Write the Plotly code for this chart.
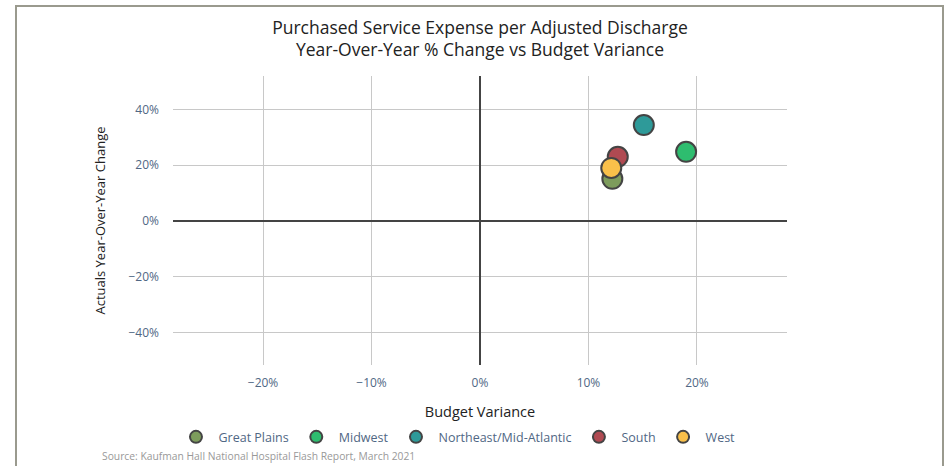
import plotly.graph_objects as go

regions = ["Great Plains", "Midwest", "Northeast/Mid-Atlantic", "South", "West"]
budget_variance = [12.2, 19.0, 15.1, 12.7, 12.1]
yoy_change = [15.1, 24.8, 34.4, 23.0, 19.0]
colors = ["#7d9c5c", "#2ebd6f", "#2e9a99", "#b04a52", "#f9c04a"]

x_ticks = [-20, -10, 0, 10, 20]
y_ticks = [-40, -20, 0, 20, 40]

fig = go.Figure()
for name, xv, yv, c in zip(regions, budget_variance, yoy_change, colors):
    fig.add_trace(go.Scatter(
        x=[xv], y=[yv], mode="markers", name=name,
        marker=dict(size=20, color=c, line=dict(color="#444444", width=2)),
    ))

tick_font = dict(family="Open Sans", size=12, color="#506784")

fig.update_layout(
    width=949, height=466,
    margin=dict(l=173, r=162, t=76, b=101, autoexpand=False),
    paper_bgcolor="white", plot_bgcolor="white",
    font=dict(family="Open Sans", color="#333333"),
    title=dict(
        text="Purchased Service Expense per Adjusted Discharge<br>Year-Over-Year % Change vs Budget Variance",
        x=0.5, xref="paper", xanchor="center", yref="container", y=1 - 33.5 / 466, yanchor="middle",
        font=dict(family="Open Sans", size=17.5, color="#222222"),
    ),
    xaxis=dict(
        range=[-28.3, 28.3], tickvals=x_ticks,
        ticktext=[f"{v}%".replace("-", "\u2212") for v in x_ticks],
        showgrid=True, gridcolor="#c8c8c8", gridwidth=1,
        zeroline=True, zerolinecolor="#444444", zerolinewidth=2,
        showline=False, tickfont=tick_font, automargin=False, ticklabelstandoff=9,
        title=dict(text="Budget Variance", font=dict(size=14.5, color="#222222"), standoff=16),
    ),
    yaxis=dict(
        range=[-51.7, 52], tickvals=y_ticks,
        ticktext=[f"{v}%".replace("-", "\u2212") for v in y_ticks],
        showgrid=True, gridcolor="#c8c8c8", gridwidth=1,
        zeroline=True, zerolinecolor="#444444", zerolinewidth=2,
        showline=False, tickfont=tick_font, ticklabelstandoff=13, automargin=False,
        title=dict(text="Actuals Year-Over-Year Change", font=dict(size=13, color="#222222"), standoff=19),
    ),
    legend=dict(
        orientation="h", x=0.4625, xanchor="center", y=-0.198, yanchor="top",
        font=dict(family="Open Sans", size=12.5, color="#506784"),
        itemsizing="constant", itemwidth=35,
    ),
    showlegend=True,
)

fig.add_annotation(
    text="Source: Kaufman Hall National Hospital Flash Report, March 2021",
    xref="paper", yref="paper", x=(100 - 173) / 614, y=-0.283, xanchor="left", yanchor="top",
    showarrow=False, font=dict(family="Open Sans", size=10.3, color="#999999"),
)

# figure frame
pw, ph = 949 - 173 - 162, 466 - 76 - 101
fig.add_shape(
    type="rect", xref="paper", yref="paper",
    x0=(16 - 173) / pw, x1=(943 - 173) / pw,
    y0=(365 - 480) / ph, y1=(365 - 6) / ph,
    line=dict(color="#9a9a8e", width=2), fillcolor="rgba(0,0,0,0)", layer="below",
)

fig.write_html("out.html", config={"displayModeBar": False},
               post_script="document.body.style.margin='0';")
